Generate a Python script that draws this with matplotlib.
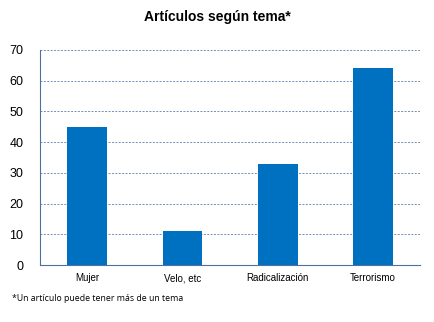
import matplotlib
matplotlib.use("Agg")
import matplotlib.pyplot as plt

categories = ["Mujer", "Velo, etc", "Radicalización", "Terrorismo"]
values = [45, 11, 33, 64]
yticks = [0, 10, 20, 30, 40, 50, 60, 70]

fig = plt.figure(figsize=(4.34, 3.22), dpi=100)
ax = fig.add_axes([0.092, 0.177, 0.876, 0.668])
x = range(len(categories))
ax.bar(x, values, width=0.42, color="#0070C0", zorder=3)
ax.set_xlim(-0.5, 3.5)
ax.set_ylim(0, 70)
ax.set_yticks(yticks)
ax.set_xticks(list(x))
ax.set_xticklabels(categories, fontsize=7, family="Liberation Sans")
for lab in ax.get_yticklabels():
    lab.set_fontsize(9)
    lab.set_family("Liberation Sans")
ax.yaxis.grid(True, linestyle=(0, (2, 1.5)), color="#6F8FB8", linewidth=0.7, zorder=0)
for s in ["top", "right"]:
    ax.spines[s].set_visible(False)
ax.spines["left"].set_color("#4F6F9F")
ax.spines["bottom"].set_color("#4F6F9F")
ax.tick_params(axis="both", length=0, pad=6)
ax.tick_params(axis="y", pad=12)
fig.text(0.5, 0.947, "Artículos según tema*", ha="center", va="center",
         fontsize=10, fontweight="bold", family="Liberation Sans")
fig.text(0.028, 0.073, "*Un artículo puede tener más de un tema", ha="left", va="center",
         fontsize=6.3, family="Open Sans")
fig.savefig("out.png", dpi=100)
